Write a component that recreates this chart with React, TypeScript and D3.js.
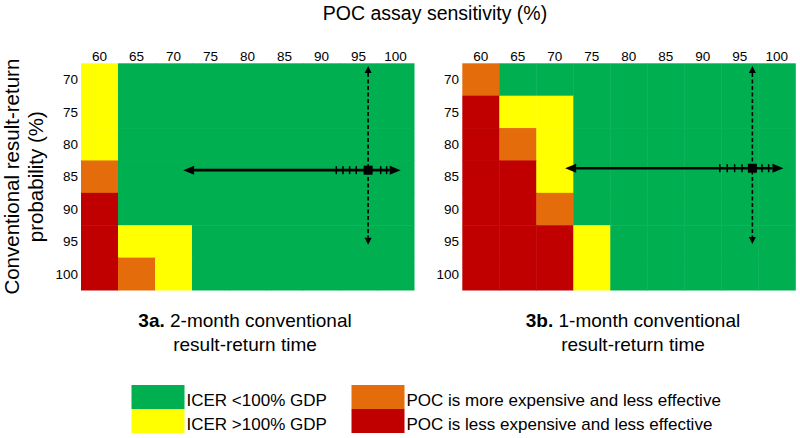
import React from "react";
import * as d3 from "d3";

// ---- Data ----
const sensitivities = [60, 65, 70, 75, 80, 85, 90, 95, 100];
const probabilities = [70, 75, 80, 85, 90, 95, 100];

// cell category codes per row (probability), per column (sensitivity)
// G: ICER <100% GDP, Y: ICER >100% GDP, O: more expensive & less effective, R: less expensive & less effective
const panelARows = [
  ["Y", "G", "G", "G", "G", "G", "G", "G", "G"],
  ["Y", "G", "G", "G", "G", "G", "G", "G", "G"],
  ["Y", "G", "G", "G", "G", "G", "G", "G", "G"],
  ["O", "G", "G", "G", "G", "G", "G", "G", "G"],
  ["R", "G", "G", "G", "G", "G", "G", "G", "G"],
  ["R", "Y", "Y", "G", "G", "G", "G", "G", "G"],
  ["R", "O", "Y", "G", "G", "G", "G", "G", "G"],
];
const panelBRows = [
  ["O", "G", "G", "G", "G", "G", "G", "G", "G"],
  ["R", "Y", "Y", "G", "G", "G", "G", "G", "G"],
  ["R", "O", "Y", "G", "G", "G", "G", "G", "G"],
  ["R", "R", "Y", "G", "G", "G", "G", "G", "G"],
  ["R", "R", "O", "G", "G", "G", "G", "G", "G"],
  ["R", "R", "R", "Y", "G", "G", "G", "G", "G"],
  ["R", "R", "R", "Y", "G", "G", "G", "G", "G"],
];

// base-case point & ranges (sensitivity %, probability %)
const panelAPoint = [96.3, 84.0];
const panelAHRange = [71.3, 100.7];
const panelAVRange = [67.9, 95.5];
const panelATicks = [92.0, 92.9, 93.8, 94.7, 98.0, 98.8];

const panelBPoint = [96.7, 83.7];
const panelBHRange = [71.4, 100.9];
const panelBVRange = [67.9, 95.4];
const panelBTicks = [92.3, 93.3, 94.3, 95.3, 98.0, 98.9];

const legendCodes = ["G", "Y", "O", "R"];
const legendLabels = [
  "ICER <100% GDP",
  "ICER >100% GDP",
  "POC is more expensive and less effective",
  "POC is less expensive and less effective",
];

const titleText = "POC assay sensitivity (%)";
const yLabelLines = ["Conventional result-return", "probability (%)"];
const panelATitle = ["3a.", " 2-month conventional", "result-return time"];
const panelBTitle = ["3b.", " 1-month conventional", "result-return time"];

// ---- Styles ----
const colors: Record<string, string> = {
  G: "#00B050",
  Y: "#FFFF00",
  O: "#E46C0A",
  R: "#C00000",
};
const FONT = "'Liberation Sans', Arial, Helvetica, sans-serif";

const W = 800;
const H = 438;
const Y0 = 63.3;
const Y1 = 290;

function Panel({ x0, x1, rows, point, hRange, vRange, ticks, tickLabelX }: any) {
  const xBand = d3.scaleBand<number>().domain(sensitivities).range([x0, x1]);
  const yBand = d3.scaleBand<number>().domain(probabilities).range([Y0, Y1]);
  const xLin = d3.scaleLinear().domain([57.5, 102.5]).range([x0, x1]);
  const yLin = d3.scaleLinear().domain([67.5, 102.5]).range([Y0, Y1]);

  const px = xLin(point[0]);
  const py = yLin(point[1]);
  const hx0 = xLin(hRange[0]);
  const hx1 = xLin(hRange[1]);
  const vy0 = yLin(vRange[0]);
  const vy1 = yLin(vRange[1]);
  const ah = 11; // horizontal arrowhead length
  const aw = 4.5;
  const vh = 7;
  const vw = 3.5;

  return (
    <g>
      {rows.map((row: string[], ri: number) =>
        row.map((c: string, ci: number) => (
          <rect
            key={`${ri}-${ci}`}
            x={xBand(sensitivities[ci])}
            y={yBand(probabilities[ri])}
            width={xBand.bandwidth() + 0.5}
            height={yBand.bandwidth() + 0.5}
            fill={colors[c]}
          />
        ))
      )}
      {sensitivities.map((s) => (
        <text
          key={"cx" + s}
          x={(xBand(s) as number) + xBand.bandwidth() / 2}
          y={60.5}
          textAnchor="middle"
          fontSize={13.5}
          fontFamily={FONT}
          fill="#000"
        >
          {s}
        </text>
      ))}
      {probabilities.map((p) => (
        <text
          key={"ry" + p}
          x={tickLabelX}
          y={(yBand(p) as number) + yBand.bandwidth() / 2}
          dy="0.35em"
          textAnchor="end"
          fontSize={13.5}
          fontFamily={FONT}
          fill="#000"
        >
          {p}
        </text>
      ))}
      {/* vertical dashed arrow */}
      <line
        x1={px}
        x2={px}
        y1={vy0 + vh}
        y2={vy1 - vh}
        stroke="#000"
        strokeWidth={1.6}
        strokeDasharray="4,2.5"
      />
      <path d={`M${px},${vy0} L${px - vw},${vy0 + vh} L${px + vw},${vy0 + vh} Z`} fill="#000" />
      <path d={`M${px},${vy1} L${px - vw},${vy1 - vh} L${px + vw},${vy1 - vh} Z`} fill="#000" />
      {/* horizontal solid arrow */}
      <line x1={hx0 + ah} x2={hx1 - ah} y1={py} y2={py} stroke="#000" strokeWidth={2.6} />
      <path d={`M${hx0},${py} L${hx0 + ah},${py - aw} L${hx0 + ah},${py + aw} Z`} fill="#000" />
      <path d={`M${hx1},${py} L${hx1 - ah},${py - aw} L${hx1 - ah},${py + aw} Z`} fill="#000" />
      {ticks.map((t: number) => (
        <line
          key={"t" + t}
          x1={xLin(t)}
          x2={xLin(t)}
          y1={py - 4}
          y2={py + 4}
          stroke="#000"
          strokeWidth={1.5}
        />
      ))}
      <rect x={px - 4.5} y={py - 4.5} width={9} height={9} fill="#000" />
    </g>
  );
}

export default function App() {
  const ax0 = 81,
    ax1 = 414,
    bx0 = 462.3,
    bx1 = 795.3;
  const midY = (Y0 + Y1) / 2;

  const legendX = [131.5, 131.5, 351.5, 351.5];
  const legendY = [385, 409, 385, 409];

  return (
    <svg
      width={W}
      height={H}
      viewBox={`0 0 ${W} ${H}`}
      style={{ position: "absolute", left: 0, top: 0, background: "#fff" }}
    >
      <rect width={W} height={H} fill="#fff" />
      <text x={435} y={20} textAnchor="middle" fontSize={19.5} fontFamily={FONT} fill="#000">
        {titleText}
      </text>
      <g transform={`translate(0,${midY}) rotate(-90)`}>
        <text x={0} y={19} textAnchor="middle" fontSize={20.5} fontFamily={FONT} fill="#000">
          {yLabelLines[0]}
        </text>
        <text x={0} y={43} textAnchor="middle" fontSize={20.5} fontFamily={FONT} fill="#000">
          {yLabelLines[1]}
        </text>
      </g>

      <Panel
        x0={ax0}
        x1={ax1}
        rows={panelARows}
        point={panelAPoint}
        hRange={panelAHRange}
        vRange={panelAVRange}
        ticks={panelATicks}
        tickLabelX={78}
      />
      <Panel
        x0={bx0}
        x1={bx1}
        rows={panelBRows}
        point={panelBPoint}
        hRange={panelBHRange}
        vRange={panelBVRange}
        ticks={panelBTicks}
        tickLabelX={459}
      />

      {[
        { t: panelATitle, cx: 245 },
        { t: panelBTitle, cx: 633 },
      ].map((p, i) => (
        <g key={"st" + i} fontFamily={FONT} fontSize={19} fill="#000">
          <text x={p.cx} y={327} textAnchor="middle">
            <tspan fontWeight="bold">{p.t[0]}</tspan>
            <tspan>{p.t[1]}</tspan>
          </text>
          <text x={p.cx} y={351} textAnchor="middle">
            {p.t[2]}
          </text>
        </g>
      ))}

      {legendCodes.map((c, i) => (
        <g key={"lg" + c}>
          <rect x={legendX[i]} y={legendY[i]} width={53} height={24} fill={colors[c]} />
          <text
            x={legendX[i] + 55}
            y={legendY[i] + 21}
            fontSize={17}
            fontFamily={FONT}
            fill="#000"
          >
            {legendLabels[i]}
          </text>
        </g>
      ))}
    </svg>
  );
}
